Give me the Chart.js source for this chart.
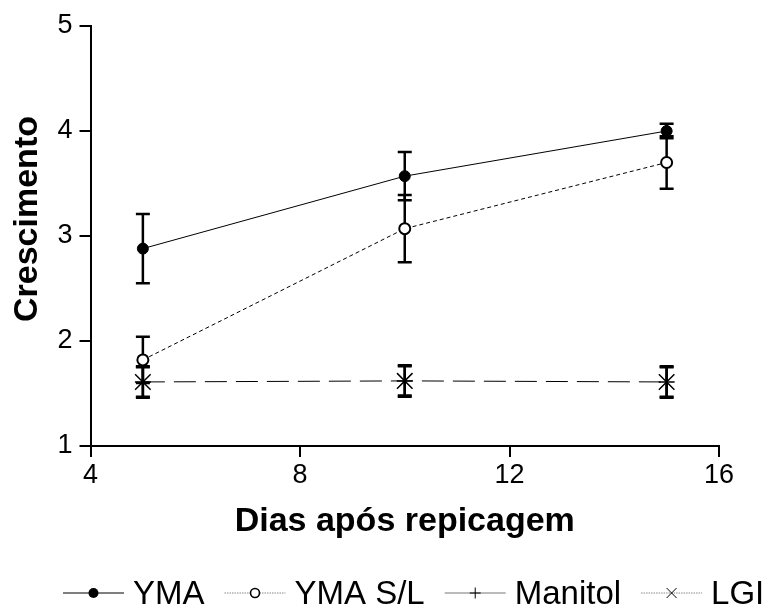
<!DOCTYPE html>
<html>
<head>
<meta charset="utf-8">
<script src="https://cdn.jsdelivr.net/npm/chart.js@4/dist/chart.umd.min.js"></script>
<style>
html,body{margin:0;padding:0;background:#fff;}
#wrap{width:768px;height:608px;position:relative;}
</style>
</head>
<body>
<div id="wrap"><canvas id="c" width="768" height="608"></canvas></div>
<script>
// ---- data ----
const days = [5, 10, 15];
const yma = [2.88, 3.57, 4.00];
const ymaErr = [0.33, 0.23, 0.07];
const ymaSL = [1.82, 3.07, 3.70];
const ymaSLErr = [0.22, 0.32, 0.25];
const manitol = [1.61, 1.62, 1.61];
const manitolErr = [0.15, 0.15, 0.15];
const lgi = [1.61, 1.62, 1.61];
const lgiErr = [0.14, 0.14, 0.14];
const seriesNames = ['YMA', 'YMA S/L', 'Manitol', 'LGI'];
const xTicks = [4, 8, 12, 16];
const yTicks = [1, 2, 3, 4, 5];
const xTitle = 'Dias após repicagem';
const yTitle = 'Crescimento';

const FONT = "'Liberation Sans', Arial, sans-serif";
const toPts = (xs, ys) => xs.map((x, i) => ({x: x, y: ys[i]}));

const errorSets = [ymaErr, ymaSLErr, manitolErr, lgiErr];

const errorBars = {
  id: 'errorBars',
  beforeDatasetsDraw(chart) {
    const ctx = chart.ctx;
    const xs = chart.scales.x, ys = chart.scales.y;
    ctx.save();
    ctx.strokeStyle = '#000';
    ctx.lineWidth = 2.5;
    chart.data.datasets.forEach((ds, di) => {
      const err = errorSets[di];
      ds.data.forEach((p, i) => {
        const px = xs.getPixelForValue(p.x);
        const top = ys.getPixelForValue(p.y + err[i]);
        const bot = ys.getPixelForValue(p.y - err[i]);
        ctx.beginPath();
        ctx.moveTo(px, top); ctx.lineTo(px, bot);
        ctx.moveTo(px - 7, top); ctx.lineTo(px + 7, top);
        ctx.moveTo(px - 7, bot); ctx.lineTo(px + 7, bot);
        ctx.stroke();
      });
    });
    ctx.restore();
  }
};

// rotated y-axis title
const yAxisTitle = {
  id: 'yAxisTitle',
  afterDraw(chart) {
    const ctx = chart.ctx;
    ctx.save();
    ctx.translate(28, 219);
    ctx.rotate(-Math.PI / 2);
    ctx.font = 'bold 34px ' + FONT;
    ctx.fillStyle = '#000';
    ctx.textAlign = 'center';
    ctx.textBaseline = 'middle';
    ctx.fillText(yTitle, 0, 0);
    ctx.restore();
  }
};

function drawMarker(ctx, type, x, y, r) {
  ctx.beginPath();
  if (type === 'filled') {
    ctx.arc(x, y, r, 0, Math.PI * 2); ctx.fillStyle = '#000'; ctx.fill();
  } else if (type === 'open') {
    ctx.arc(x, y, r, 0, Math.PI * 2); ctx.fillStyle = '#fff'; ctx.fill();
    ctx.lineWidth = 1.6; ctx.strokeStyle = '#000'; ctx.stroke();
  } else if (type === 'plus') {
    ctx.moveTo(x, y - r); ctx.lineTo(x, y + r);
    ctx.moveTo(x - r, y); ctx.lineTo(x + r, y);
    ctx.lineWidth = 1; ctx.strokeStyle = '#000'; ctx.stroke();
  } else if (type === 'x') {
    ctx.moveTo(x - r, y - r); ctx.lineTo(x + r, y + r);
    ctx.moveTo(x - r, y + r); ctx.lineTo(x + r, y - r);
    ctx.lineWidth = 1; ctx.strokeStyle = '#000'; ctx.stroke();
  }
}

const legendStyles = [
  {marker: 'filled', r: 5, color: '#555', dash: [], width: 1.5},
  {marker: 'open', r: 4.5, color: '#888', dash: [1.5, 1], width: 1},
  {marker: 'plus', r: 5.5, color: '#777', dash: [], width: 1},
  {marker: 'x', r: 5, color: '#888', dash: [1.5, 1], width: 1}
];

const customLegend = {
  id: 'customLegend',
  afterDraw(chart) {
    const ctx = chart.ctx;
    ctx.save();
    ctx.font = '33px ' + FONT;
    ctx.textBaseline = 'alphabetic';
    let x = 63;
    const yc = 593;
    chart.data.datasets.forEach((ds, i) => {
      const st = legendStyles[i];
      const lineW = 61;
      ctx.beginPath();
      ctx.setLineDash(st.dash);
      ctx.strokeStyle = st.color;
      ctx.lineWidth = st.width;
      ctx.moveTo(x, yc); ctx.lineTo(x + lineW, yc);
      ctx.stroke();
      ctx.setLineDash([]);
      drawMarker(ctx, st.marker, x + lineW / 2, yc, st.r);
      ctx.fillStyle = '#000';
      const tx = x + lineW + 9;
      ctx.fillText(ds.label, tx, 604);
      x = tx + ctx.measureText(ds.label).width + 20;
    });
    ctx.restore();
  }
};

new Chart(document.getElementById('c'), {
  type: 'line',
  data: {
    datasets: [
      {label: seriesNames[0], data: toPts(days, yma), borderColor: '#000', borderWidth: 1,
       pointStyle: 'circle', pointRadius: 5.5, pointBackgroundColor: '#000', pointBorderColor: '#000', pointBorderWidth: 1},
      {label: seriesNames[1], data: toPts(days, ymaSL), borderColor: '#000', borderWidth: 1, borderDash: [4, 3],
       pointStyle: 'circle', pointRadius: 5.5, pointBackgroundColor: '#fff', pointBorderColor: '#000', pointBorderWidth: 2},
      {label: seriesNames[2], data: toPts(days, manitol), borderColor: '#000', borderWidth: 1, showLine: false,
       pointStyle: 'cross', pointRadius: 8, pointBorderColor: '#000', pointBorderWidth: 1.5},
      {label: seriesNames[3], data: toPts(days, lgi), borderColor: '#000', borderWidth: 1, borderDash: [22, 9],
       pointStyle: 'crossRot', pointRadius: 11, pointBorderColor: '#000', pointBorderWidth: 1.5}
    ]
  },
  options: {
    responsive: false,
    animation: false,
    events: [],
    layout: {padding: {left: 0, right: 49, top: 26, bottom: 61.5}},
    plugins: {legend: {display: false}, tooltip: {enabled: false}},
    scales: {
      x: {
        type: 'linear', min: 4, max: 16,
        afterBuildTicks: s => { s.ticks = xTicks.map(v => ({value: v})); },
        afterFit: s => { s.height = 100.5; },
        border: {display: true, color: '#000', width: 2},
        grid: {display: true, drawOnChartArea: false, drawTicks: true, tickLength: 11, color: '#000', lineWidth: 2},
        ticks: {color: '#000', font: {family: FONT, size: 27}, padding: 2, maxRotation: 0},
        title: {display: true, text: xTitle, color: '#000', font: {family: FONT, size: 34, weight: 'bold'}}
      },
      y: {
        type: 'linear', min: 1, max: 5,
        afterBuildTicks: s => { s.ticks = yTicks.map(v => ({value: v})); },
        afterFit: s => { s.width = 90.5; },
        border: {display: true, color: '#000', width: 2},
        grid: {display: true, drawOnChartArea: false, drawTicks: true, tickLength: 11, color: '#000', lineWidth: 2},
        ticks: {color: '#000', font: {family: FONT, size: 27}, padding: 7},
        title: {display: false, text: yTitle}
      }
    }
  },
  plugins: [errorBars, yAxisTitle, customLegend]
});
</script>
</body>
</html>
